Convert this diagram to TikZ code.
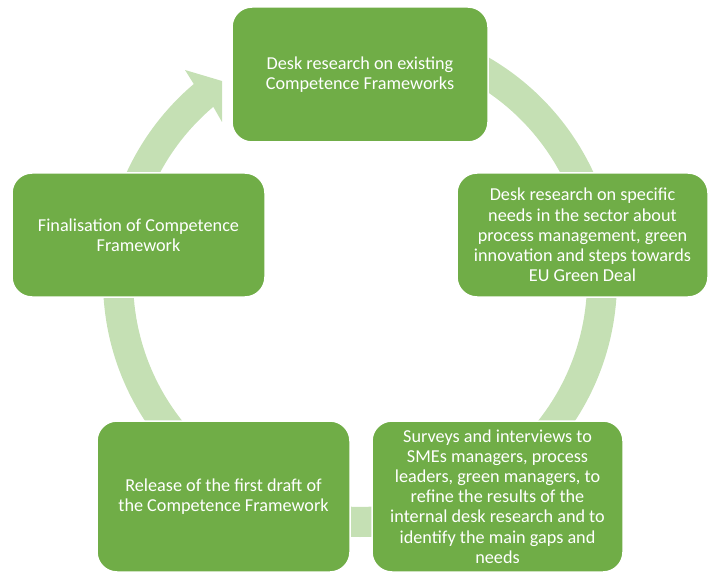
\documentclass[tikz,border=0pt]{standalone}
\usepackage{fontspec}
\setmainfont{Carlito}
\usepackage{tikz}
\definecolor{stagegreen}{HTML}{70AD47}
\definecolor{ringgreen}{HTML}{C5E0B4}

\begin{document}
\begin{tikzpicture}[x=1pt, y=-1pt,
    stagebox/.style={draw=white, line width=1.5pt, fill=stagegreen, rounded corners=20pt,
                     text=white, align=center, inner sep=0pt,
                     font=\fontsize{18.2}{20.2}\selectfont},
    ringband/.style={fill=ringgreen}]
    \useasboundingbox (0,0) rectangle (723,580);
    \coordinate (ring) at (360,280);
    % Draw ring band, arrowhead into the first stage
    \fill [ringband] (ring) ++(-90:257) arc [start angle=-90, end angle=229.7, radius=257]
        -- (185,70) -- (222,81) -- (222,122) -- (213.3,106.8) % arrowhead
        arc [start angle=229.7, end angle=-90, radius=227] -- cycle;
    % Draw stages
    \node (deskexist) [stagebox, minimum width=256pt, minimum height=135pt] at (360,74.5)
        {Desk research on existing\\Competence Frameworks};
    \node (deskneeds) [stagebox, minimum width=251pt, minimum height=124pt] at (582.5,235)
        {Desk research on specific\\needs in the sector about\\process management, green\\innovation and steps towards\\EU Green Deal};
    \node (surveys) [stagebox, minimum width=251pt, minimum height=151pt] at (497.5,496.5)
        {Surveys and interviews to\\SMEs managers, process\\leaders, green managers, to\\refine the results of the\\internal desk research and to\\identify the main gaps and\\needs};
    \node (draft) [stagebox, minimum width=253pt, minimum height=151pt] at (223.5,496.5)
        {Release of the first draft of\\the Competence Framework};
    \node (final) [stagebox, minimum width=253pt, minimum height=124pt] at (138.5,235)
        {Finalisation of Competence\\Framework};
\end{tikzpicture}
\end{document}
